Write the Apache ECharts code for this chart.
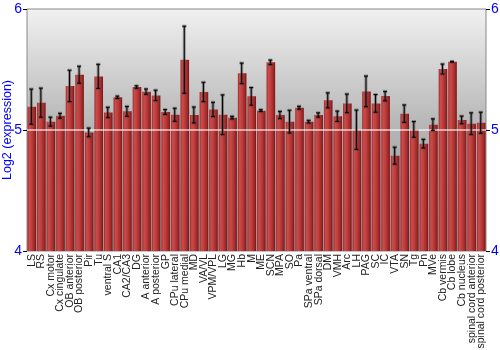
<!DOCTYPE html>
<html><head><meta charset="utf-8">
<script src="https://cdn.jsdelivr.net/npm/echarts@6/dist/echarts.min.js"></script>
<style>html,body{margin:0;padding:0;background:#fff}#c{width:500px;height:350px}</style>
</head><body><div id="c"></div>
<script>
var categories = ["LS","RS","Cx motor","Cx cingulate","OB anterior","OB posterior","Pir","Tu","ventral S","CA1","CA2/CA3","DG","A anterior","A posterior","GP","CPu lateral","CPu medial","MD","VA/VL","VPM/VPL","LG","MG","Hb","M","ME","SCN","MPA","SO","Pa","SPa ventral","SPa dorsal","DM","VMH","Arc","LH","PAG","SC","IC","VTA","SN","Tg","Pn","MVe","Cb vermis","Cb lobe","Cb nucleus","spinal cord anterior","spinal cord posterior"];
var values = [5.193,5.226,5.069,5.118,5.364,5.457,4.980,5.443,5.145,5.270,5.154,5.355,5.317,5.286,5.149,5.126,5.581,5.124,5.314,5.170,5.126,5.102,5.468,5.278,5.160,5.559,5.124,5.069,5.184,5.069,5.124,5.245,5.113,5.220,5.002,5.319,5.220,5.280,4.788,5.135,5.005,4.887,5.044,5.504,5.564,5.083,5.052,5.060];
var errors = [0.145,0.120,0.037,0.020,0.130,0.070,0.036,0.100,0.043,0.010,0.041,0.010,0.022,0.043,0.020,0.054,0.277,0.066,0.080,0.059,0.164,0.011,0.085,0.073,0.008,0.019,0.030,0.094,0.012,0.011,0.018,0.062,0.043,0.077,0.163,0.127,0.073,0.039,0.070,0.072,0.065,0.036,0.048,0.041,0.003,0.032,0.090,0.087];
var yTicks = [4,5,6];

var errData = values.map(function(v,i){return [i, v-errors[i], v+errors[i]];});
var chart = echarts.init(document.getElementById('c'), null, {renderer:'canvas'});
var axisLab = {color:'#0000ff', fontSize:14, fontFamily:'Liberation Sans, Arial, sans-serif'};
chart.setOption({
  animation:false,
  grid:{left:27, right:14, top:9, bottom:99, show:true, borderColor:'#888', borderWidth:1,
    outerBoundsMode:'none', containLabel:false,
    backgroundColor:{type:'linear',x:0,y:0,x2:0,y2:1,colorStops:[{offset:0,color:'#f1f1f1'},{offset:0.5,color:'#b4b4b4'},{offset:1,color:'#9a9a9a'}]}},
  xAxis:{type:'category', data:categories, boundaryGap:true,
    axisLine:{show:false}, axisTick:{show:false},
    axisLabel:{rotate:90, interval:0, fontSize:10.5, color:'#222', margin:3, fontFamily:'Liberation Sans, Arial, sans-serif'}},
  yAxis:[
    {type:'value', min:4, max:6, interval:1, position:'left',
     name:'Log2 (expression)', nameLocation:'middle', nameGap:13, nameRotate:90, nameMoveOverlap:false,
     nameTextStyle:{color:'#0000ff', fontSize:12.5, fontFamily:'Liberation Sans, Arial, sans-serif'},
     axisLine:{show:false}, axisTick:{show:true, length:4, lineStyle:{color:'#000'}},
     splitLine:{show:false},
     axisLabel:Object.assign({margin:5, formatter:function(v){return yTicks.indexOf(v)>=0?String(v):'';}},axisLab)},
    {type:'value', min:4, max:6, interval:1, position:'right',
     axisLine:{show:false}, axisTick:{show:true, length:4, lineStyle:{color:'#000'}},
     splitLine:{show:false},
     axisLabel:Object.assign({margin:5},axisLab)}
  ],
  series:[
    {type:'bar', data:values, barCategoryGap:'10%',
     itemStyle:{color:{type:'linear',x:0,y:0,x2:1,y2:0,colorStops:[
       {offset:0,color:'#9a2b2b'},{offset:0.2,color:'#cc4c4c'},{offset:0.45,color:'#c04040'},{offset:0.8,color:'#a02828'},{offset:1,color:'#741515'}]}},
     markLine:{silent:true, symbol:'none', label:{show:false},
       lineStyle:{color:'rgba(255,255,255,0.75)', type:'solid', width:1.5}, data:[{yAxis:5}]}},
    {type:'custom', data:errData, z:10,
     renderItem:function(params, api){
       var x = api.value(0);
       var lo = api.coord([x, api.value(1)]);
       var hi = api.coord([x, api.value(2)]);
       var cx = lo[0]-0.5, w = 2;
       var children = [];
       [['rgba(60,60,60,0.45)',3],['#000',1]].forEach(function(s){
         children.push({type:'line', shape:{x1:cx,y1:lo[1],x2:cx,y2:hi[1]}, style:{stroke:s[0], lineWidth:s[1]}});
         children.push({type:'line', shape:{x1:cx-w,y1:lo[1],x2:cx+w,y2:lo[1]}, style:{stroke:s[0], lineWidth:s[1]}});
         children.push({type:'line', shape:{x1:cx-w,y1:hi[1],x2:cx+w,y2:hi[1]}, style:{stroke:s[0], lineWidth:s[1]}});
       });
       return {type:'group', children:children};
     }}
  ]
});
</script></body></html>
